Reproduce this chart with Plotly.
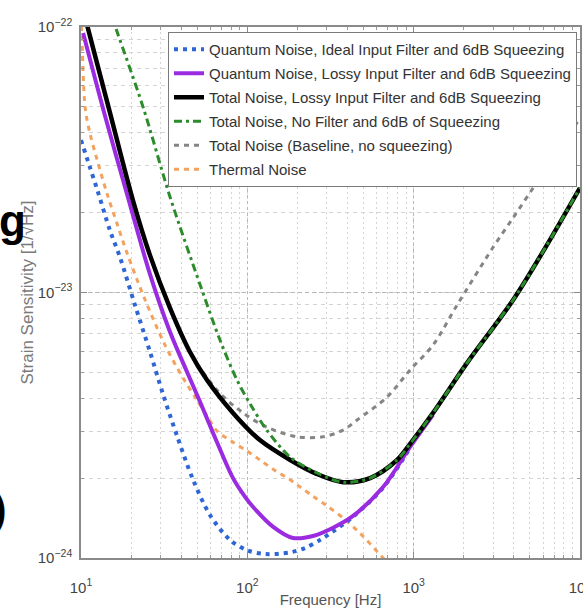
import plotly.graph_objects as go

# ---- noise curves (frequency in Hz, strain in 1/sqrt(Hz)) ----
f_quantum_ideal = [10.0, 11.3, 12.7, 14.9, 17.2, 21.1, 26.0, 31.1, 37.8, 47.2, 59.7, 78.7,
                   99.6, 128, 181, 222, 274, 328, 432, 655, 952]
h_quantum_ideal = [3.75e-23, 2.97e-23, 2.37e-23, 1.72e-23, 1.35e-23, 8.97e-24, 5.97e-24,
                   4.15e-24, 2.88e-24, 1.97e-24, 1.45e-24, 1.17e-24, 1.07e-24, 1.035e-24,
                   1.05e-24, 1.09e-24, 1.17e-24, 1.26e-24, 1.43e-24, 1.84e-24, 2.60e-24]

f_quantum_lossy = [10.3, 13.9, 19.2, 26.0, 34.3, 43.4, 52.0, 65.7, 82.0, 96.9, 108, 143,
                   188, 248, 328, 432, 655, 952, 1308]
h_quantum_lossy = [9.49e-23, 4.66e-23, 2.27e-23, 1.17e-23, 7.10e-24, 5.02e-24, 3.87e-24,
                   2.73e-24, 2.00e-24, 1.70e-24, 1.56e-24, 1.31e-24, 1.19e-24, 1.21e-24,
                   1.30e-24, 1.44e-24, 1.85e-24, 2.62e-24, 3.46e-24]

f_total_lossy = [10.4, 11.0, 14.9, 20.5, 26.0, 34.3, 45.2, 57.2, 82.0, 119, 181, 263, 376,
                 547, 795, 952, 1308, 2095, 3960, 6167, 10000]
h_total_lossy = [1.13e-22, 9.9e-23, 4.78e-23, 2.23e-23, 1.38e-23, 8.74e-24, 5.97e-24,
                 4.68e-24, 3.52e-24, 2.78e-24, 2.34e-24, 2.07e-24, 1.93e-24, 2.00e-24,
                 2.34e-24, 2.69e-24, 3.52e-24, 5.43e-24, 9.37e-24, 1.47e-23, 2.48e-23]

f_total_nofilter = [14.9, 16.5, 23.6, 34.3, 52.0, 68.5, 86.7, 104, 131, 181, 263, 376, 547,
                    795, 952, 1308, 2095, 3960, 6167, 10000]
h_total_nofilter = [1.15e-22, 9.57e-23, 5.00e-23, 2.29e-23, 1.07e-23, 6.62e-24, 4.68e-24,
                    3.80e-24, 3.03e-24, 2.40e-24, 2.09e-24, 1.93e-24, 2.00e-24, 2.34e-24,
                    2.69e-24, 3.52e-24, 5.43e-24, 9.37e-24, 1.47e-23, 2.48e-23]

f_baseline = [10.4, 11.0, 14.9, 20.5, 26.0, 34.3, 45.2, 65.7, 94.2, 131, 199, 285, 376, 457,
              692, 952, 1308, 1824, 3002, 3960, 5370, 7594, 10000]
h_baseline = [1.13e-22, 9.9e-23, 4.78e-23, 2.23e-23, 1.38e-23, 8.74e-24, 5.97e-24, 4.29e-24,
              3.52e-24, 3.11e-24, 2.86e-24, 2.86e-24, 3.03e-24, 3.31e-24, 4.04e-24, 5.11e-24,
              6.34e-24, 8.97e-24, 1.48e-23, 1.91e-23, 2.54e-23, 3.50e-23, 4.54e-23]

f_thermal = [10.0, 10.1, 10.6, 11.3, 12.5, 14.3, 16.5, 18.9, 24.3, 32.0, 41.1, 49.8, 57.2,
             65.7, 82.0, 99.6, 119, 143, 181, 208, 248, 302, 376, 476, 655, 742]
h_thermal = [1.1e-22, 9.57e-23, 4.95e-23, 3.99e-23, 3.16e-23, 2.37e-23, 1.81e-23, 1.41e-23,
             9.37e-24, 6.34e-24, 4.76e-24, 3.94e-24, 3.43e-24, 3.01e-24, 2.73e-24, 2.53e-24,
             2.34e-24, 2.16e-24, 1.97e-24, 1.85e-24, 1.71e-24, 1.57e-24, 1.415e-24, 1.24e-24,
             1.0e-24, 9.17e-25]

# ---- axis ticks ----
x_tickvals = [10, 100, 1000, 10000]
x_ticktext = ["10<sup>1</sup>", "10<sup>2</sup>", "10<sup>3</sup>", "10<sup>4</sup>"]
y_tickvals = [1e-24, 1e-23, 1e-22]
y_ticktext = ["10<sup>\u221224</sup>", "10<sup>\u221223</sup>", "10<sup>\u221222</sup>"]

FONT = "Liberation Sans, Arial, sans-serif"

# (name, x, y, colour, width, dash, legend rank) in drawing order
series = [
    ("Thermal Noise", f_thermal, h_thermal, "#f2a25e", 3, "5px,5px", 6),
    ("Total Noise (Baseline, no squeezing)", f_baseline, h_baseline, "#858585", 3, "5px,5px", 5),
    ("Quantum Noise, Ideal Input Filter and 6dB Squeezing", f_quantum_ideal, h_quantum_ideal,
     "#2f66d6", 4, "4px,5px", 1),
    ("Quantum Noise, Lossy Input Filter and 6dB Squeezing", f_quantum_lossy, h_quantum_lossy,
     "#9b2be0", 4, "solid", 2),
    ("Total Noise, Lossy Input Filter and 6dB Squeezing", f_total_lossy, h_total_lossy,
     "#000000", 4.5, "solid", 3),
    ("Total Noise, No Filter and 6dB of Squeezing", f_total_nofilter, h_total_nofilter,
     "#2a8c2a", 3, "8px,4px,3px,4px", 4),
]

fig = go.Figure()
for i, (name, fx, hy, color, width, dash, rank) in enumerate(series):
    fig.add_trace(go.Scatter(
        x=fx, y=hy, mode="lines", name=name,
        line=dict(color=color, width=width, dash=dash, shape="spline", smoothing=0.9),
        legendrank=rank, legendgroup=f"g{i}",
    ))

grid_major = "#b8b8b8"
grid_minor = "#d4d4d4"

fig.update_xaxes(
    type="log", range=[1, 4],
    tickmode="array", tickvals=x_tickvals, ticktext=x_ticktext,
    tickfont=dict(family=FONT, size=15, color="#444"),
    ticks="inside", ticklen=6, tickcolor="#8a8a8a",
    ticklabelstandoff=15, ticklabeloverflow="allow",
    showline=True, linecolor="#8a8a8a", linewidth=1.5, mirror="ticks",
    showgrid=True, gridcolor=grid_major, griddash="3px,3px", gridwidth=1,
    minor=dict(dtick="D1", showgrid=True, gridcolor=grid_minor, griddash="2px,3px",
               ticks="inside", ticklen=3, tickcolor="#9a9a9a"),
    title=dict(text="Frequency [Hz]", font=dict(family=FONT, size=15, color="#555"),
               standoff=0),
    zeroline=False,
)
fig.update_yaxes(
    type="log", range=[-24, -22],
    tickmode="array", tickvals=y_tickvals, ticktext=y_ticktext,
    tickfont=dict(family=FONT, size=15, color="#444"),
    ticks="inside", ticklen=6, tickcolor="#8a8a8a",
    ticklabelstandoff=4,
    showline=True, linecolor="#8a8a8a", linewidth=1.5, mirror="ticks",
    showgrid=True, gridcolor=grid_major, griddash="4px,3px", gridwidth=1,
    minor=dict(dtick="D1", showgrid=True, gridcolor=grid_minor, griddash="4px,4px",
               ticks="inside", ticklen=3, tickcolor="#9a9a9a"),
    title=dict(text="Strain Sensitivity [1/\u221aHz]",
               font=dict(family=FONT, size=17, color="#7a7a7a"), standoff=0),
    zeroline=False,
)

fig.update_layout(
    width=583, height=609,
    margin=dict(l=81, r=3, t=27, b=51, autoexpand=False),
    paper_bgcolor="white", plot_bgcolor="white",
    font=dict(family=FONT, size=15, color="#444"),
    legend=dict(
        x=(168 - 81) / 499, y=(558 - 32) / 531, xanchor="left", yanchor="top",
        bgcolor="white", bordercolor="#7a7a7a", borderwidth=1,
        font=dict(family=FONT, size=15, color="#333"),
        tracegroupgap=1.5, itemwidth=30,
    ),
    annotations=[
        dict(text="<b>g</b>", xref="paper", yref="paper", x=-84 / 499, y=(558 - 220) / 531,
             xanchor="left", yanchor="middle", showarrow=False,
             font=dict(family=FONT, size=44, color="#000")),
        dict(text="<b>)</b>", xref="paper", yref="paper", x=-91 / 499, y=(558 - 508) / 531,
             xanchor="left", yanchor="middle", showarrow=False,
             font=dict(family=FONT, size=44, color="#000")),
    ],
)

fig.write_html("out.html")
